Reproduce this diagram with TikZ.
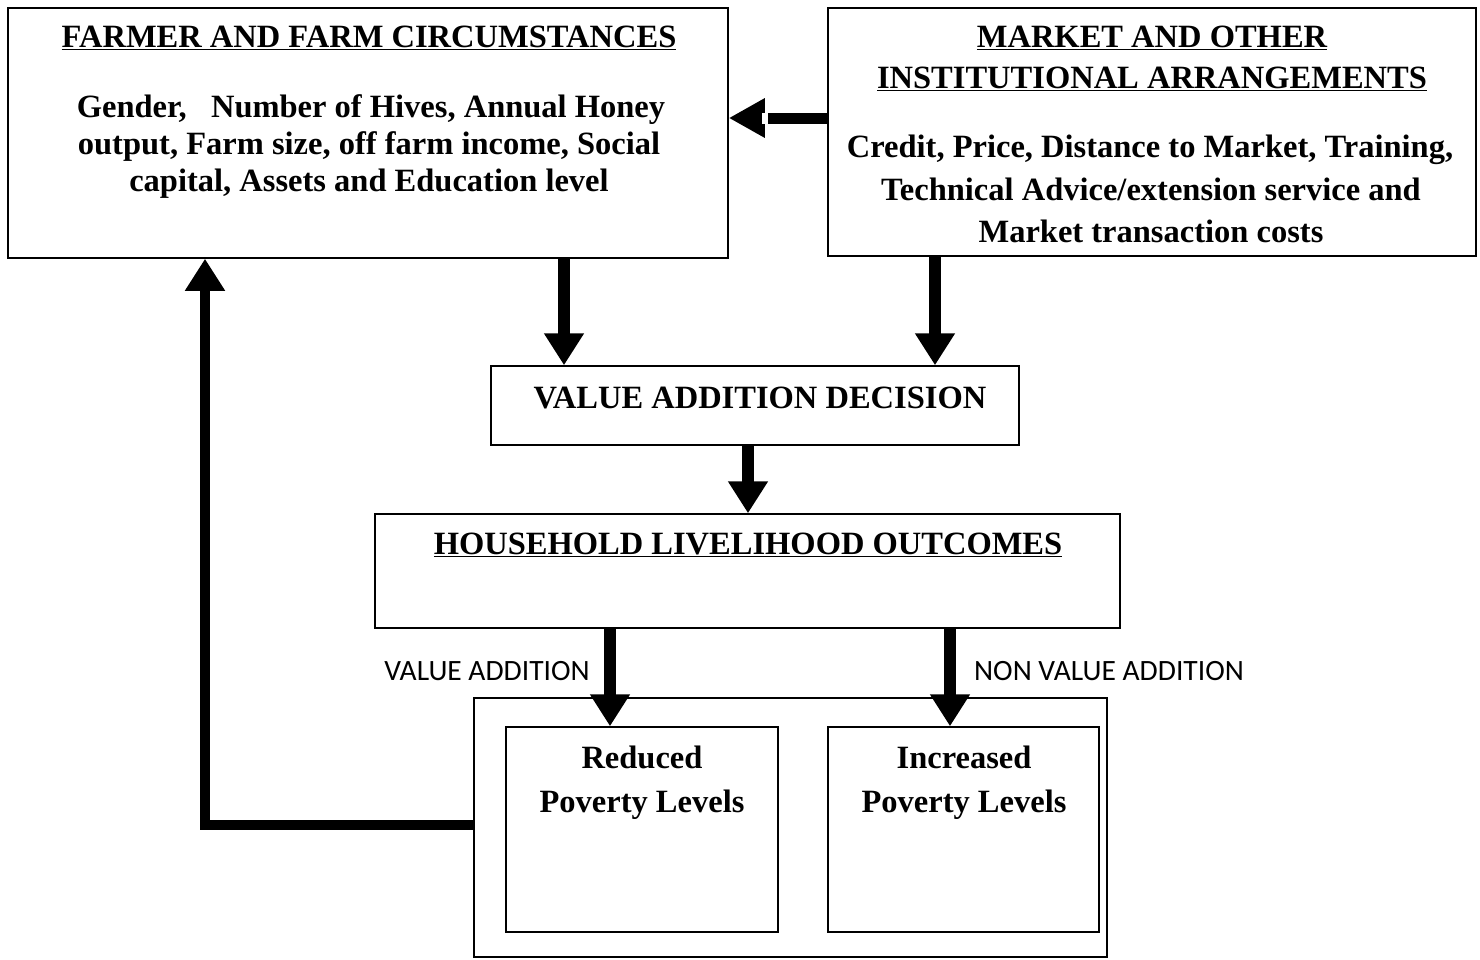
\documentclass[tikz,border=0pt]{standalone}
\usepackage{fontspec}
\setmainfont{Liberation Serif}
\newfontfamily\calfont{Carlito}
\usetikzlibrary{arrows.meta,calc}
\begin{document}
\begin{tikzpicture}[x=1pt,y=-1pt,
  box/.style={draw,line width=1.5pt,inner sep=0pt},
  btxt/.style={font=\fontsize{32.5}{38}\selectfont\bfseries,inner sep=0pt,anchor=base},
  lbl/.style={font=\calfont\fontsize{29.5}{32}\selectfont,inner sep=0pt,anchor=base},
  arr/.style={line width=12pt,-{Triangle[length=32pt,width=38pt]}},
  fb/.style={line width=10pt,-{Triangle[length=32pt,width=38pt]}}]
\useasboundingbox (0,0) rectangle (1480,959);
% boxes
\node[box,minimum width=720pt,minimum height=250pt] (farmer) at (368,133) {};
\node[box,minimum width=648pt,minimum height=248pt] (market) at (1152,132) {};
\node[box,minimum width=528pt,minimum height=79pt] (vad) at (755,405.5) {};
\node[box,minimum width=745pt,minimum height=114pt] (hh) at (747.5,571) {};
\node[box,minimum width=633pt,minimum height=259pt] (outer) at (790.5,827.5) {};
\node[box,minimum width=272pt,minimum height=205pt] (red) at (642,829.5) {};
\node[box,minimum width=271pt,minimum height=205pt] (inc) at (963.5,829.5) {};
% texts
\node[btxt] (t1) at (369,47) {\underline{FARMER AND FARM CIRCUMSTANCES}};
\node[btxt] (t2a) at (371,117) {Gender,\ \ \ Number of Hives, Annual Honey};
\node[btxt] (t2b) at (369,154) {output, Farm size, off farm income, Social};
\node[btxt] (t2c) at (369,191) {capital, Assets and Education level};
\node[btxt] (t3a) at (1152,47) {\underline{MARKET AND OTHER}};
\node[btxt] (t3b) at (1152,88) {\underline{INSTITUTIONAL ARRANGEMENTS}};
\node[btxt] (t4a) at (1150,157) {Credit, Price, Distance to Market, Training,};
\node[btxt] (t4b) at (1151,200) {Technical Advice/extension service and};
\node[btxt] (t4c) at (1151,242) {Market transaction costs};
\node[btxt] (t5) at (760,408) {VALUE ADDITION DECISION};
\node[btxt] (t6) at (748,554) {\underline{HOUSEHOLD LIVELIHOOD OUTCOMES}};
\node[btxt] (t7a) at (642,768) {Reduced};
\node[btxt] (t7b) at (642,812) {Poverty Levels};
\node[btxt] (t8a) at (964,768) {Increased};
\node[btxt] (t8b) at (964,812) {Poverty Levels};
\node[lbl] (l1) at (487,680) {VALUE ADDITION};
\node[lbl] (l2) at (1109,680) {NON VALUE ADDITION};
% arrows
\draw[line width=11pt,-{Triangle[length=36pt,width=37pt]}] (market.west |- 0,118) -- (farmer.east |- 0,118);
\fill[white] (762,113) rectangle (768,124);
\draw[arr] (farmer.south -| 564,0) -- (vad.north -| 564,0);
\draw[arr] (market.south -| 935,0) -- (vad.north -| 935,0);
\draw[arr] (vad.south -| 748,0) -- (hh.north -| 748,0);
\draw[arr] (hh.south -| 610,0) -- (red.north -| 610,0);
\draw[arr] (hh.south -| 950,0) -- (inc.north -| 950,0);
\draw[fb] (outer.west |- 0,825) -| (farmer.south -| 205,0);
\end{tikzpicture}
\end{document}
